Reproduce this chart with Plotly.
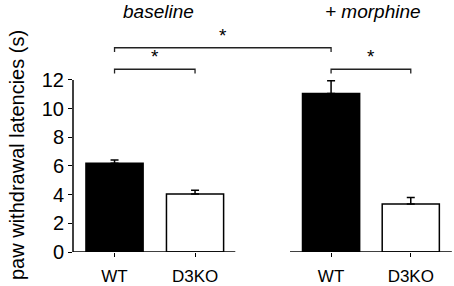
import plotly.graph_objects as go

categories = ["WT", "D3KO", "WT", "D3KO"]
groups = ["baseline", "+ morphine"]
means = [6.2, 4.05, 11.05, 3.35]
errors = [0.22, 0.25, 0.9, 0.45]
colors = ["black", "white", "black", "white"]
xpos = [0, 1, 2.69, 3.68]
yticks = [0, 2, 4, 6, 8, 10, 12]

FONT = "Liberation Sans, Arial, Helvetica, sans-serif"

fig = go.Figure()
fig.add_trace(go.Bar(
    x=xpos, y=means, width=0.71,
    marker=dict(color=colors, line=dict(color="black", width=1.5)),
    error_y=dict(type="data", array=errors, arrayminus=[0]*4, symmetric=False,
                 color="black", thickness=1.5, width=4),
    showlegend=False,
))

xr = [-0.516, 4.217]
yr = [0, 17.58]

shapes = []
shapes.append(dict(type="line", xref="paper", yref="y", x0=0, x1=0, y0=0, y1=12,
                   line=dict(color="black", width=1.5)))
shapes.append(dict(type="line", xref="x", yref="y", x0=xr[0], x1=1.5, y0=0, y1=0,
                   line=dict(color="black", width=1.5)))
shapes.append(dict(type="line", xref="x", yref="y", x0=2.18, x1=4.19, y0=0, y1=0,
                   line=dict(color="black", width=1.5)))

def bracket(xa, xb, y, drop=0.3):
    pts = f"M {xa} {y-drop} L {xa} {y} L {xb} {y} L {xb} {y-drop}"
    shapes.append(dict(type="path", xref="x", yref="y", path=pts,
                       line=dict(color="#222", width=1.3)))

brs = [(xpos[0], xpos[1], 12.75), (xpos[2], xpos[3], 12.75), (xpos[0], xpos[2], 14.25)]
for b in brs:
    bracket(*b)

annotations = []
for xa, xb, y in brs:
    annotations.append(dict(x=(xa + xb) / 2, y=y + 0.0, xref="x", yref="y", text="*",
                            showarrow=False, yanchor="bottom",
                            font=dict(family=FONT, size=19, color="black")))
annotations.append(dict(x=(xpos[0] + xpos[1]) / 2 + 0.05, y=16.75, xref="x", yref="y",
                        text="<i>" + groups[0] + "</i>", showarrow=False,
                        font=dict(family=FONT, size=19, color="black")))
annotations.append(dict(x=(xpos[2] + xpos[3]) / 2 + 0.03, y=16.75, xref="x", yref="y",
                        text="<i>" + groups[1] + "</i>", showarrow=False,
                        font=dict(family=FONT, size=19, color="black")))
annotations.append(dict(x=-0.181, y=0.385, xref="paper", yref="paper",
                        text="paw withdrawal latencies (s)", textangle=-90,
                        showarrow=False,
                        font=dict(family=FONT, size=20, color="black")))

fig.update_layout(
    width=454, height=286,
    margin=dict(l=73, r=0, t=0, b=34, autoexpand=False),
    paper_bgcolor="white", plot_bgcolor="white",
    font=dict(family=FONT, size=16, color="black"),
    shapes=shapes, annotations=annotations,
    xaxis=dict(range=xr, tickvals=xpos, ticktext=categories, showline=False,
               showgrid=False, zeroline=False, ticks="outside", ticklen=4,
               tickcolor="black", tickwidth=1.2, automargin=False,
               ticklabelstandoff=5,
               tickfont=dict(family=FONT, size=17, color="black")),
    yaxis=dict(range=yr, tickvals=yticks, showline=False, showgrid=False,
               zeroline=False, ticks="outside", ticklen=4, tickcolor="black",
               tickwidth=1.2, automargin=False,
               tickfont=dict(family=FONT, size=20, color="black")),
)

fig.write_html("out.html", config={"displayModeBar": False},
               post_script="document.body.style.margin='0';document.body.style.overflow='hidden';")
